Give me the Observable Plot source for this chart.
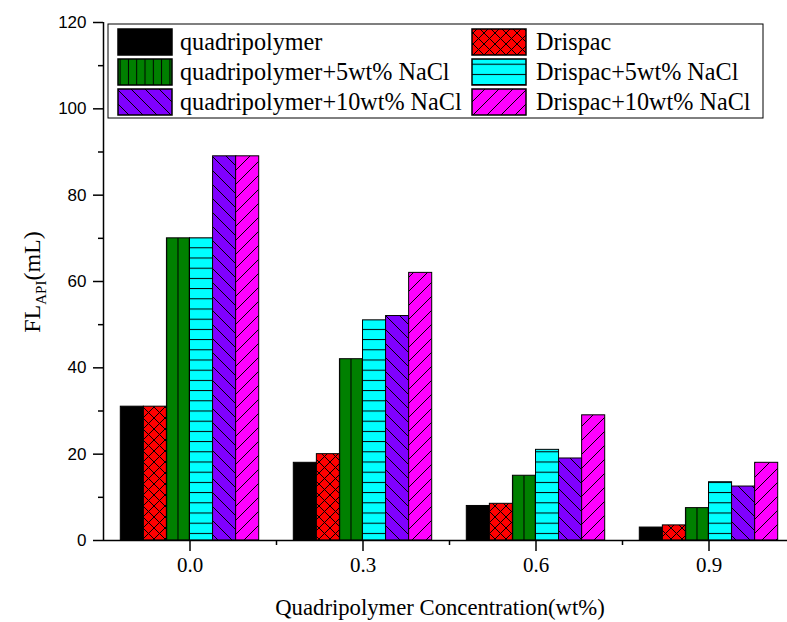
<!DOCTYPE html>
<html><head><meta charset="utf-8">
<script src="https://cdn.jsdelivr.net/npm/d3@7"></script>
<script src="https://cdn.jsdelivr.net/npm/@observablehq/plot@0.6"></script>
<style>body{margin:0;background:#fff}</style>
</head><body><div id="chart"></div>
<script>
// ---- data ----
const concentrations = [0.0, 0.3, 0.6, 0.9];
const tickLabels = ["0.0", "0.3", "0.6", "0.9"];
const seriesNames = [
  "quadripolymer", "Drispac",
  "quadripolymer+5wt% NaCl", "Drispac+5wt% NaCl",
  "quadripolymer+10wt% NaCl", "Drispac+10wt% NaCl"
];
const quadripolymer   = [31, 18, 8, 3];
const drispac         = [31, 20, 8.5, 3.5];
const quadripolymer5  = [70, 42, 15, 7.5];
const drispac5        = [70, 51, 21, 13.5];
const quadripolymer10 = [89, 52, 19, 12.5];
const drispac10       = [89, 62, 29, 18];
const yTicks = [0, 20, 40, 60, 80, 100, 120];
const yMinorTicks = [10, 30, 50, 70, 90, 110];
const xMinorTicks = [0.15, 0.45, 0.75];
const yLabelMain = "FL", yLabelSub = "API", yLabelUnit = "(mL)";
const xLabel = "Quadripolymer Concentration(wt%)";

// ---- styling ----
const seriesValues = [quadripolymer, drispac, quadripolymer5, drispac5, quadripolymer10, drispac10];
const seriesColors = ["#000000", "#ff0000", "#008000", "#00ffff", "#8000ff", "#ff00ff"];
const seriesKinds = ["solid", "cross", "vertical", "horizontal", "backslash", "slash"];
const serif = "'Liberation Serif', 'Times New Roman', serif";
const sans = "'Liberation Sans', Arial, sans-serif";

const rows = seriesNames.flatMap((s, i) =>
  concentrations.map((c, j) => ({series: s, index: i, conc: c, value: seriesValues[i][j]})));

const barW = 0.04;
const xDomain = [-0.15, 1.05];

const plot = Plot.plot({
  width: 787, height: 622,
  marginLeft: 103, marginRight: 0, marginTop: 22, marginBottom: 82,
  style: {background: "#fff", color: "#000"},
  x: {domain: xDomain, range: [103, 795]},
  y: {domain: [0, 120]},
  color: {type: "identity"},
  marks: [
    Plot.rect(rows, {
      x1: d => d.conc + (d.index - 3) * barW,
      x2: d => d.conc + (d.index - 2) * barW,
      y1: d => 0, y2: "value",
      fill: d => `url(#pat-${d.index})`,
      stroke: "#000", strokeWidth: 1
    }),
    Plot.ruleY([0], {strokeWidth: 1.5}),
    Plot.ruleX([xDomain[0]], {strokeWidth: 1.5}),
    Plot.axisY({ticks: yTicks, tickSize: 10, tickPadding: 7, label: null,
      fontFamily: sans, fontSize: 17, strokeWidth: 1.5}),
    Plot.axisY({ticks: yMinorTicks, tickSize: 5, tickFormat: () => "", label: null, strokeWidth: 1.5}),
    Plot.axisX({ticks: concentrations, tickSize: 11, tickPadding: 6, label: null,
      tickFormat: d => tickLabels[concentrations.indexOf(d)],
      fontFamily: serif, fontSize: 21, strokeWidth: 1.5}),
    Plot.axisX({ticks: xMinorTicks, tickSize: 5, tickFormat: () => "", label: null, strokeWidth: 1.5})
  ]
});
document.getElementById("chart").appendChild(plot);

// ---- patterns ----
const svg = d3.select(plot);
const xs = plot.scale("x");
const defs = svg.insert("defs", ":first-child");
function addPattern(id, kind, color, opts = {}) {
  let w = 10, h = 10, px = 0, py = 0, path = null;
  if (kind === "cross") { w = h = 11; path = `M0,0L${w},${h}M${w},0L0,${h}`; }
  else if (kind === "vertical") {
    w = opts.w; h = 10; px = opts.x - w / 2;
    path = `M${w / 2},0V${h}`;
  }
  else if (kind === "horizontal") { w = 10; h = 10.2; py = 2.5; path = `M0,0.5H${w}`; }
  else if (kind === "backslash") { w = h = 14; path = `M-1,-1L${w + 1},${h + 1}`; }
  else if (kind === "slash") { w = h = 14; path = `M-1,${h + 1}L${w + 1},-1`; }
  const p = defs.append("pattern").attr("id", id)
    .attr("patternUnits", "userSpaceOnUse")
    .attr("x", px).attr("y", py).attr("width", w).attr("height", h);
  p.append("rect").attr("width", w).attr("height", h).attr("fill", color);
  if (path) p.append("path").attr("d", path).attr("stroke", "#000").attr("stroke-width", 1).attr("fill", "none");
}
const step = xs.apply(0.3) - xs.apply(0);
seriesKinds.forEach((kind, i) => {
  addPattern(`pat-${i}`, kind, seriesColors[i],
    {w: step / 15, x: xs.apply(concentrations[0] + (i - 3) * barW + barW / 2)});
});
// finer vertical stripes for the legend swatch
addPattern("pat-legend-2", "vertical", seriesColors[2], {w: 8.3, x: 118 + 54 / 2});

// ---- legend ----
const lg = svg.append("g").attr("class", "legend");
lg.append("rect").attr("x", 108).attr("y", 24).attr("width", 655).attr("height", 94)
  .attr("fill", "#fff").attr("stroke", "#000").attr("stroke-width", 1);
seriesNames.forEach((name, i) => {
  const col = i % 2, row = Math.floor(i / 2);
  const sx = col === 0 ? 118 : 472;
  const tx = col === 0 ? 180 : 536;
  const sy = 29 + row * 30;
  lg.append("rect").attr("x", sx).attr("y", sy).attr("width", 54).attr("height", 26)
    .attr("fill", i === 2 ? "url(#pat-legend-2)" : `url(#pat-${i})`)
    .attr("stroke", "#000").attr("stroke-width", 1.5);
  lg.append("text").attr("x", tx).attr("y", sy + 13).attr("dy", "0.35em")
    .attr("text-anchor", "start")
    .attr("font-family", serif).attr("font-size", 24.2).attr("fill", "#000").text(name);
});

// ---- axis titles ----
const yl = svg.append("text").attr("transform", "translate(40,282) rotate(-90)")
  .attr("text-anchor", "middle").attr("font-family", serif).attr("font-size", 24).attr("fill", "#000");
yl.append("tspan").text(yLabelMain);
yl.append("tspan").attr("font-size", 15).attr("dy", 6).text(yLabelSub);
yl.append("tspan").attr("dy", -6).text(yLabelUnit);
svg.append("text").attr("x", 440).attr("y", 615).attr("text-anchor", "middle")
  .attr("font-family", serif).attr("font-size", 22.7).attr("fill", "#000").text(xLabel);
</script>
</body></html>
